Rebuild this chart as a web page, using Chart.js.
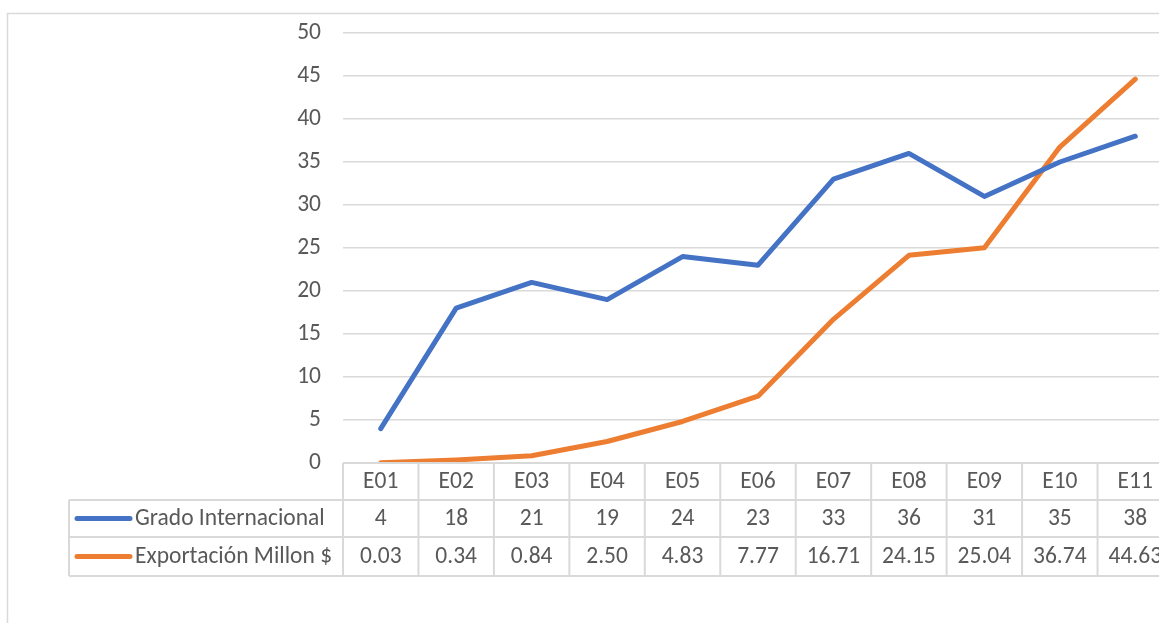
<!DOCTYPE html>
<html>
<head>
<meta charset="utf-8">
<script src="https://cdn.jsdelivr.net/npm/chart.js@4.4.1/dist/chart.umd.min.js"></script>
<style>
  html, body { margin: 0; padding: 0; background: #fff; overflow: hidden; }
  #wrap { position: relative; width: 1176px; height: 623px; }
</style>
</head>
<body>
<div id="wrap"><canvas id="chart"></canvas></div>
<script>
// ── Data ───────────────────────────────────────────
const categories = ['E01', 'E02', 'E03', 'E04', 'E05', 'E06', 'E07', 'E08', 'E09', 'E10', 'E11'];
const gradoInternacional = [4, 18, 21, 19, 24, 23, 33, 36, 31, 35, 38];
const exportacion = [0.03, 0.34, 0.84, 2.50, 4.83, 7.77, 16.71, 24.15, 25.04, 36.74, 44.63];
const seriesNames = ['Grado Internacional', 'Exportación Millon $'];
const seriesColors = ['#4472C4', '#ED7D31'];

const FONT = 'Carlito, Lato, "Liberation Sans", sans-serif';
const FONT_SIZE = 23.5;
const TEXT = '#595959';
const LINE = '#d9d9d9';

// ── Frame + data table plugin ──────────────────────
const tablePlugin = {
  id: 'dataTable',
  beforeDraw(chart) {
    const ctx = chart.ctx;
    ctx.save();
    ctx.strokeStyle = LINE;
    ctx.lineWidth = 1.5;
    ctx.beginPath();
    ctx.moveTo(7.5, chart.height);
    ctx.lineTo(7.5, 13.5);
    ctx.lineTo(chart.width, 13.5);
    ctx.stroke();
    ctx.restore();
  },
  afterDraw(chart) {
    const ctx = chart.ctx;
    const x = chart.scales.x;
    const area = chart.chartArea;
    const step = x.getPixelForValue(1) - x.getPixelForValue(0);
    const rows = [area.bottom, area.bottom + 37, area.bottom + 74, area.bottom + 113];
    const tableLeft = 69;

    ctx.save();
    ctx.strokeStyle = LINE;
    ctx.lineWidth = 2;
    ctx.beginPath();
    // header top line
    ctx.moveTo(area.left, rows[0]);
    ctx.lineTo(chart.width, rows[0]);
    for (let r = 1; r < rows.length; r++) {
      ctx.moveTo(tableLeft, rows[r]);
      ctx.lineTo(chart.width, rows[r]);
    }
    ctx.moveTo(tableLeft, rows[1]);
    ctx.lineTo(tableLeft, rows[3]);
    for (let i = 0; i <= categories.length; i++) {
      const px = area.left + i * step;
      ctx.moveTo(px, rows[0]);
      ctx.lineTo(px, rows[3]);
    }
    ctx.stroke();

    ctx.fillStyle = TEXT;
    ctx.font = FONT_SIZE + 'px ' + FONT;
    ctx.textAlign = 'center';
    ctx.textBaseline = 'middle';
    categories.forEach((c, i) => {
      const cx = x.getPixelForValue(i);
      ctx.fillText(c, cx, (rows[0] + rows[1]) / 2 + 1);
      ctx.fillText(String(gradoInternacional[i]), cx, (rows[1] + rows[2]) / 2 + 1);
      ctx.fillText(exportacion[i].toFixed(2), cx, (rows[2] + rows[3]) / 2 + 1);
    });

    // legend keys
    ctx.textAlign = 'left';
    ctx.lineCap = 'round';
    ctx.lineWidth = 5;
    seriesNames.forEach((name, s) => {
      const cy = (rows[s + 1] + rows[s + 2]) / 2;
      ctx.strokeStyle = seriesColors[s];
      ctx.beginPath();
      ctx.moveTo(77, cy);
      ctx.lineTo(130, cy);
      ctx.stroke();
      ctx.fillStyle = TEXT;
      ctx.fillText(name, 135, cy + 1);
    });
    ctx.restore();
  }
};

// ── Chart ──────────────────────────────────────────
new Chart(document.getElementById('chart'), {
  type: 'line',
  data: {
    labels: categories,
    datasets: [
      {
        label: seriesNames[0],
        data: gradoInternacional,
        borderColor: seriesColors[0],
        borderWidth: 5,
        pointRadius: 0,
        tension: 0,
        borderCapStyle: 'round',
        borderJoinStyle: 'round'
      },
      {
        label: seriesNames[1],
        data: exportacion,
        borderColor: seriesColors[1],
        borderWidth: 5,
        pointRadius: 0,
        tension: 0,
        borderCapStyle: 'round',
        borderJoinStyle: 'round'
      }
    ]
  },
  options: {
    responsive: true,
    maintainAspectRatio: false,
    animation: false,
    layout: { padding: { top: 33, bottom: 160, left: 0, right: 3 } },
    plugins: {
      legend: { display: false },
      tooltip: { enabled: false }
    },
    scales: {
      x: {
        offset: true,
        grid: { display: false },
        border: { display: false },
        ticks: { display: false },
        afterFit: (s) => { s.height = 0; s.paddingLeft = 0; s.paddingRight = 0; }
      },
      y: {
        min: 0,
        max: 50,
        ticks: { stepSize: 5, padding: 22, color: TEXT, font: { family: FONT, size: FONT_SIZE } },
        grid: { color: LINE, lineWidth: 1.5, drawTicks: false },
        border: { display: false },
        afterFit: (s) => { s.width = 343; s.paddingTop = 0; s.paddingBottom = 0; }
      }
    }
  },
  plugins: [tablePlugin]
});
</script>
</body>
</html>
